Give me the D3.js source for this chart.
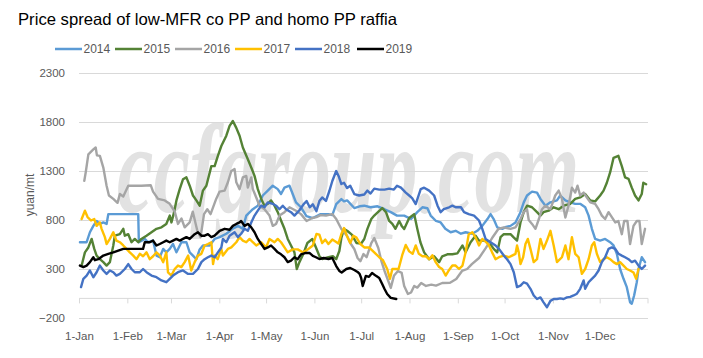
<!DOCTYPE html>
<html><head><meta charset="utf-8">
<script src="https://cdn.jsdelivr.net/npm/d3@7"></script>
<style>body{margin:0;background:#fff}svg{display:block}</style>
</head><body><svg id="chart" width="703" height="358"></svg>
<script>
// ---------- data ----------
const titleText = "Price spread of low-MFR co PP and homo PP raffia";
const years = ["2014","2015","2016","2017","2018","2019"];
const seriesColors = ["#5B9BD5","#548235","#A5A5A5","#FFC000","#4472C4","#000000"];
const monthLabels = ["1-Jan","1-Feb","1-Mar","1-Apr","1-May","1-Jun","1-Jul","1-Aug","1-Sep","1-Oct","1-Nov","1-Dec"];
const yTickValues = [-200,300,800,1300,1800,2300];
const yTitle = "yuan/mt";
const watermark = "ccfgroup.com";
// [day of year (0 = 1-Jan), yuan/mt]
const s2014 = [[0.6,573],[4.9,573],[7,675],[9.2,740],[11.3,790],[13.4,760],[15.6,775],[17.7,760],[18.8,860],[38,860],[38.4,573],[42.2,607],[44.3,573],[47.5,590],[49.7,437],[51.8,420],[54,505],[56,470],[58.2,505],[60.3,555],[62.5,470],[65.7,573],[68.9,573],[71,470],[73.1,437],[75.3,400],[77.4,500],[79.5,540],[83.8,540],[87,607],[90.2,625],[94.5,660],[98.7,710],[102,740],[105,710],[107.3,845],[111.5,910],[114.7,946],[117.9,1050],[121.1,1100],[124.3,1150],[127.5,1115],[129.6,1065],[131.8,1130],[135,1150],[137.1,1065],[139.2,980],[142.4,930],[145.9,840],[150,820],[155,860],[160,860],[162.5,850],[165,963],[168.3,1014],[170,990],[172,1000],[176.6,922],[180,940],[183,946],[187,930],[191.5,940],[196,910],[200,880],[204,845],[208.6,845],[213,810],[217,880],[220.3,930],[223.5,920],[225.6,845],[229,790],[232,775],[235,710],[238.4,675],[241.6,690],[245,660],[248,675],[252.3,660],[255.5,690],[258.7,740],[262,810],[264,860],[266,810],[268.3,725],[271.5,710],[274,730],[276.8,740],[280,775],[283.2,880],[285.3,980],[287.4,1050],[290.6,1090],[293.8,1080],[296,1015],[299.2,946],[302.4,980],[306.6,1000],[308.7,1050],[312,1000],[315.1,980],[318.3,965],[321.5,965],[324.7,930],[326.9,845],[329,710],[331.1,607],[334.3,590],[337.5,607],[340.7,573],[342.9,540],[345,455],[347.1,300],[349.3,200],[351.4,115],[353.5,-40],[354.6,-55],[356.1,30],[357.8,165],[358.9,300],[361,420],[363.1,370]];
const s2015 = [[1.7,335],[3.8,470],[6,520],[8.1,607],[9.8,505],[11.3,437],[13.4,400],[15.6,370],[17.7,335],[19.8,370],[22,540],[23,640],[26.2,655],[28.4,710],[29.4,640],[31.6,655],[33.7,573],[35.8,607],[38,573],[40,607],[43.3,640],[46.5,675],[49.7,710],[52.9,725],[56,760],[58.2,845],[59.3,775],[61,880],[62.5,1000],[64.6,1115],[66.7,1215],[68.9,1235],[71,1150],[73.1,1050],[75.3,1000],[77.4,946],[79.5,1100],[81.7,1150],[84.9,1350],[87,1350],[89.1,1455],[91.3,1555],[94.5,1660],[96.6,1760],[98.7,1810],[100.9,1740],[103,1660],[105.1,1540],[108.3,1420],[110.5,1335],[112.6,1250],[114.7,1115],[116.9,1015],[119,946],[121.1,965],[123.2,1000],[125.4,946],[127.5,880],[129.6,795],[131.8,710],[133.9,607],[136,540],[138.2,470],[139.7,300],[141.4,370],[143.5,440],[144.6,484],[146.5,565],[149.7,606],[152,520],[154.2,433],[156,402],[160,420],[163,430],[165,400],[167,484],[168.3,616],[170,708],[172,690],[175,650],[178,565],[181,560],[183,606],[185,710],[187.5,810],[189.4,845],[192.6,892],[194.5,922],[196.9,880],[199,790],[201,760],[203,710],[205.4,790],[207,740],[208.6,708],[211.8,820],[215,860],[217,710],[219,573],[221.4,470],[224.6,400],[227.8,430],[231,370],[233,430],[236.3,450],[239.5,450],[242.7,460],[246,540],[248,470],[251.2,573],[254.4,640],[256.6,590],[259.8,590],[263,573],[266,505],[268.3,470],[270.4,625],[272.5,655],[276.8,655],[279,620],[281,590],[283.2,775],[285.3,880],[287.4,946],[290.6,930],[293.8,880],[296,845],[298,880],[301.3,895],[304.5,930],[307.7,910],[310.9,946],[315.1,965],[318.3,1015],[321.5,1030],[324.7,1065],[328,1000],[331.1,990],[334.3,1050],[336.5,1100],[338.6,1180],[340.7,1285],[342.9,1435],[346,1455],[348.2,1350],[350.3,1235],[352.5,1220],[354.6,1130],[356.7,1050],[358.9,1000],[361,1065],[362,1180],[363.8,1165]];
const s2016 = [[3.4,1200],[4.3,1285],[6,1470],[9.2,1520],[10.7,1540],[11.5,1460],[13.4,1455],[15.6,1335],[17.7,1150],[19.2,1050],[22,1015],[24.7,975],[26.2,1065],[28.4,1040],[31.6,1150],[40,1150],[46,1155],[47.5,1090],[50.7,1015],[55,1000],[58.2,965],[61.4,885],[63.5,760],[65.7,815],[67.8,725],[71,775],[73,885],[75.9,690],[78,625],[80.2,860],[82.3,910],[84.4,860],[88,1015],[90.2,1090],[93.4,1100],[95.5,1185],[97.7,1300],[99.8,1320],[100.9,1185],[103,1115],[105.1,1235],[107.3,1250],[108.3,1130],[110.5,1235],[111.5,1115],[113.7,1030],[115.8,945],[119,910],[122.2,845],[124.3,740],[126.4,760],[128.6,845],[131.8,880],[135,930],[139.2,895],[142.4,860],[146,790],[149.7,820],[152.3,830],[155,850],[158.4,845],[162.5,860],[165,810],[168.3,708],[172,637],[174,565],[176.6,504],[178.7,412],[180.5,380],[182.5,453],[184.5,420],[187.5,565],[189.4,616],[192,514],[194,380],[196,280],[198.4,178],[200,107],[202,230],[204.6,280],[207,260],[208.6,127],[211,45],[213,60],[215,127],[217,110],[219.5,157],[222.6,127],[226,140],[229,130],[233,157],[238,160],[242,198],[245.7,280],[249,300],[252,350],[256.6,412],[261,515],[265,616],[269,708],[272.5,725],[276.8,710],[280,725],[283.2,810],[285.3,880],[287.4,910],[288.5,800],[290.6,760],[292.8,710],[295,810],[297,910],[299.2,946],[302.4,910],[305.5,1050],[307.7,1100],[309.8,1015],[312,825],[314,946],[316.2,1130],[318.3,1080],[319.8,1150],[321.5,1050],[323.7,1080],[325.8,1030],[328,980],[331.1,965],[333.3,910],[335.4,845],[337.5,810],[339.7,880],[341.8,830],[344,775],[346,790],[348.2,655],[349.7,790],[351.8,790],[353.5,555],[355.7,740],[357.8,790],[359.5,790],[361,555],[363.1,710]];
const s2017 = [[1.7,810],[3.8,895],[5.5,830],[7.7,795],[9.8,810],[11.3,740],[13.4,775],[14.5,710],[16.6,625],[17.7,555],[19.8,607],[22,675],[24,590],[26.2,573],[28.4,540],[30.5,505],[32.6,470],[34.8,437],[36.9,400],[39,455],[41.1,430],[43.3,470],[45.4,400],[47.5,430],[49.7,470],[51.8,440],[54,370],[56,470],[57.1,265],[59.3,233],[61.4,300],[63.5,335],[65.7,320],[67.8,370],[70,437],[72,285],[74.2,370],[76.3,437],[78.5,455],[80.6,540],[82.7,555],[84.9,573],[86,350],[87,437],[89,400],[91.3,505],[92.3,437],[95.5,505],[97.7,520],[100.9,573],[103,625],[105.1,590],[107.3,573],[109.4,607],[111.5,573],[113.7,540],[116.9,573],[120,520],[122.2,607],[125.4,573],[127.5,607],[129.6,573],[131.8,520],[133.9,470],[137.1,500],[140.3,500],[143.5,470],[146,490],[150,540],[152.3,657],[154.2,650],[156,565],[158,600],[160,555],[162.5,600],[164.5,580],[166.4,560],[168.3,657],[170,718],[171.8,640],[174,565],[176,640],[178,620],[180.5,555],[183,520],[186,520],[189.4,470],[192.6,420],[195,390],[197.7,300],[199.5,200],[201,300],[205,300],[207.5,450],[209.6,545],[211.8,480],[214,455],[216,540],[218,455],[220.3,430],[222.5,430],[224.6,400],[226.7,440],[228.8,370],[231,320],[233,300],[235.2,233],[237.4,290],[239.5,335],[241.6,335],[243.8,300],[246,335],[248,470],[250,655],[252.3,675],[254.4,620],[256.6,540],[258.7,607],[260.8,580],[263,540],[265,470],[267.2,400],[269.4,420],[272.5,437],[275.7,420],[277.8,437],[280,455],[281,540],[282.1,470],[283.2,350],[284.9,420],[286.4,555],[287.9,607],[289.6,505],[291.7,370],[293.8,400],[296,607],[298,505],[300.2,590],[302.4,690],[304.5,540],[306.6,370],[309.8,420],[312,540],[314,400],[316.2,625],[318.3,455],[320.5,420],[322.6,250],[324.7,300],[326.9,400],[329,540],[330.5,573],[332.2,455],[334.3,370],[336.5,400],[338.6,420],[340.7,400],[342.9,370],[345,350],[347.1,370],[349.3,335],[351.4,300],[353.5,285],[355.7,265],[357.4,200],[358.9,300]];
const s2018 = [[1.3,115],[2.8,200],[4.9,233],[7,285],[9.2,216],[11.3,267],[13.4,335],[15.6,285],[17.7,250],[19.8,285],[22,267],[24,233],[26.2,250],[29.4,300],[31.6,350],[33.7,300],[35.8,267],[39,267],[41.1,300],[43.3,267],[46.5,233],[49.7,216],[52.9,183],[56,165],[58.2,200],[60.3,233],[63.5,267],[66.7,285],[70,250],[73.1,250],[76.3,300],[78.5,370],[80.6,400],[82.7,420],[84.9,437],[87,420],[89.1,470],[91.3,520],[92.3,607],[94.5,573],[96.6,640],[99.8,675],[101.9,625],[104,660],[106.2,710],[108.3,690],[110.5,775],[112.6,845],[114.7,895],[116.9,946],[119,930],[121.1,980],[124.3,965],[126.4,946],[128.6,910],[130.7,946],[132.8,910],[136,880],[138.2,845],[141.4,900],[144,960],[146,994],[148,930],[150,960],[152.3,890],[154.2,994],[156,1030],[158.4,994],[160.6,1096],[162.5,1198],[165,1300],[166.5,1250],[168.3,1167],[170,1180],[172,1126],[174,1150],[176.6,1065],[179.7,1050],[183,1060],[185,1100],[187,1070],[189.4,1120],[192.6,1110],[196,1110],[199,1120],[202,1110],[204,1150],[206.5,1130],[209.6,1080],[211.8,1050],[213.7,1024],[216,963],[219.2,1115],[221.4,1130],[224.6,1100],[227.8,1050],[230,946],[232,880],[234,910],[237.4,930],[239.5,946],[241.6,930],[245,930],[247,880],[250,860],[253.4,845],[256.6,795],[258.7,710],[260.8,607],[264,573],[267.2,540],[269.4,505],[272.5,437],[274.6,400],[276.8,350],[278.9,267],[281,115],[283.2,130],[285.3,165],[287.4,150],[289.6,98],[291.7,30],[293.8,-6],[296,10],[298,-40],[300.2,-90],[302.4,-25],[304.5,-6],[306.6,-6],[308.7,0],[310.9,-6],[313,10],[315.1,15],[317.3,30],[319.4,48],[321.5,98],[323.7,183],[324.7,98],[326.9,165],[329,200],[331.1,233],[333.3,285],[335.4,370],[337.5,420],[339.7,505],[341.8,520],[344,505],[346.1,455],[348.2,437],[350.3,420],[352.5,400],[354.6,370],[356.7,385],[358.9,335],[361,300],[363.1,335]];
const s2019 = [[0.6,335],[2.8,320],[4.9,335],[7,370],[9.2,420],[10.2,390],[12.4,400],[15.6,437],[18.8,455],[22,470],[25.2,487],[28.4,505],[41.1,505],[42.2,573],[45.4,573],[47.5,590],[49.7,540],[51.8,555],[54,573],[56,590],[58.2,573],[60.3,590],[62.5,607],[64.6,590],[66.7,607],[68.9,625],[71,607],[74.2,655],[76.3,675],[78.5,640],[80.6,640],[82.7,655],[84.9,625],[87,640],[90.2,690],[93.4,710],[96.6,700],[98.7,740],[100.9,760],[103,775],[104,790],[106.2,740],[108.3,760],[110.5,725],[112.6,675],[114.7,607],[116.9,555],[119,505],[121.1,520],[123.2,540],[125.4,505],[127.5,470],[129.6,450],[131.8,420],[133.9,370],[136,385],[138.2,420],[140.3,400],[142.4,450],[145,463],[148,463],[150,433],[152,420],[154.2,402],[157,412],[160,402],[162.5,412],[165,330],[167,280],[168.5,265],[171.5,300],[174,310],[176.6,290],[178.7,270],[180,250],[181,208],[182,127],[184,230],[186,220],[188,260],[190.5,230],[192.6,208],[194.5,147],[196,96],[197.7,45],[200,5],[203.5,-6]];
const seriesData = [s2014, s2015, s2016, s2017, s2018, s2019];

// ---------- layout ----------
const svg = d3.select("#chart");
const W = 703, H = 358;
const plot = {left: 79, right: 648, top: 73, bottom: 318};
const font = "'Liberation Sans', Arial, sans-serif";
const textColor = "#595959";
const gridColor = "#D9D9D9";

svg.append("rect").attr("width", W).attr("height", H).attr("fill", "#fff");

const jan1 = new Date(2019, 0, 1);
const x = d3.scaleLinear().domain([0, 365]).range([plot.left, plot.right]);
const y = d3.scaleLinear().domain([-200, 2300]).range([plot.bottom, plot.top]);

// title
svg.append("text").attr("x", 18).attr("y", 25)
  .attr("font-family", font).attr("font-size", 16.5).attr("fill", "#000")
  .attr("textLength", 379).attr("lengthAdjust", "spacingAndGlyphs")
  .text(titleText);

// legend
const legendX = [55, 115, 175, 235, 295, 357];
const lg = svg.append("g");
years.forEach((yr, i) => {
  const g = lg.append("g").attr("transform", `translate(${legendX[i]},49)`);
  g.append("line").attr("x1", 0).attr("x2", 27).attr("y1", 0).attr("y2", 0)
    .attr("stroke", seriesColors[i]).attr("stroke-width", 2.5);
  g.append("text").attr("x", 28.5).attr("y", 4.2).attr("font-family", font)
    .attr("font-size", 12).attr("fill", textColor).text(yr);
});

// watermark (vertically stretched italic serif)
svg.append("text").attr("transform", "translate(117,212) scale(1,1.55)")
  .attr("font-family", "'Liberation Serif', 'Times New Roman', serif")
  .attr("font-style", "italic").attr("font-weight", "bold")
  .attr("font-size", 82).attr("fill", "#E2E2E2")
  .text(watermark);

// y gridlines + labels
const yAxis = d3.axisLeft(y).tickValues(yTickValues)
  .tickSize(-(plot.right - plot.left)).tickPadding(14).tickFormat(d3.format("d"));
const yg = svg.append("g").attr("transform", `translate(${plot.left},0)`).call(yAxis);
yg.select(".domain").remove();
yg.selectAll(".tick line").attr("stroke", gridColor).attr("stroke-width", 1);
yg.selectAll(".tick text").attr("font-family", font).attr("font-size", 11.5).attr("fill", textColor);

// y title
svg.append("text")
  .attr("transform", `translate(34,195) rotate(-90)`)
  .attr("text-anchor", "middle").attr("font-family", font)
  .attr("font-size", 12).attr("fill", textColor).text(yTitle);

// x axis at zero
const monthDays = d3.range(12).map(m => d3.timeDay.count(jan1, new Date(2019, m, 1)));
const xAxis = d3.axisBottom(x).tickValues(monthDays)
  .tickSize(5).tickPadding(28).tickFormat((d, i) => monthLabels[i]);
const xg = svg.append("g").attr("transform", `translate(0,${y(0)})`).call(xAxis);
xg.select(".domain").attr("stroke", gridColor).attr("d", `M${plot.left},0H${plot.right}`);
xg.selectAll(".tick line").attr("stroke", gridColor);
xg.selectAll(".tick text").attr("font-family", font).attr("font-size", 11.5).attr("fill", textColor);
xg.append("line").attr("x1", plot.right).attr("x2", plot.right).attr("y1", 0).attr("y2", 5)
  .attr("stroke", gridColor);

// series lines
const line = d3.line().x(d => x(d[0])).y(d => y(d[1]));
seriesData.forEach((s, i) => {
  svg.append("path").datum(s).attr("d", line)
    .attr("fill", "none").attr("stroke", seriesColors[i])
    .attr("stroke-width", 2.4).attr("stroke-linejoin", "round").attr("stroke-linecap", "round");
});
</script>
</body></html>
